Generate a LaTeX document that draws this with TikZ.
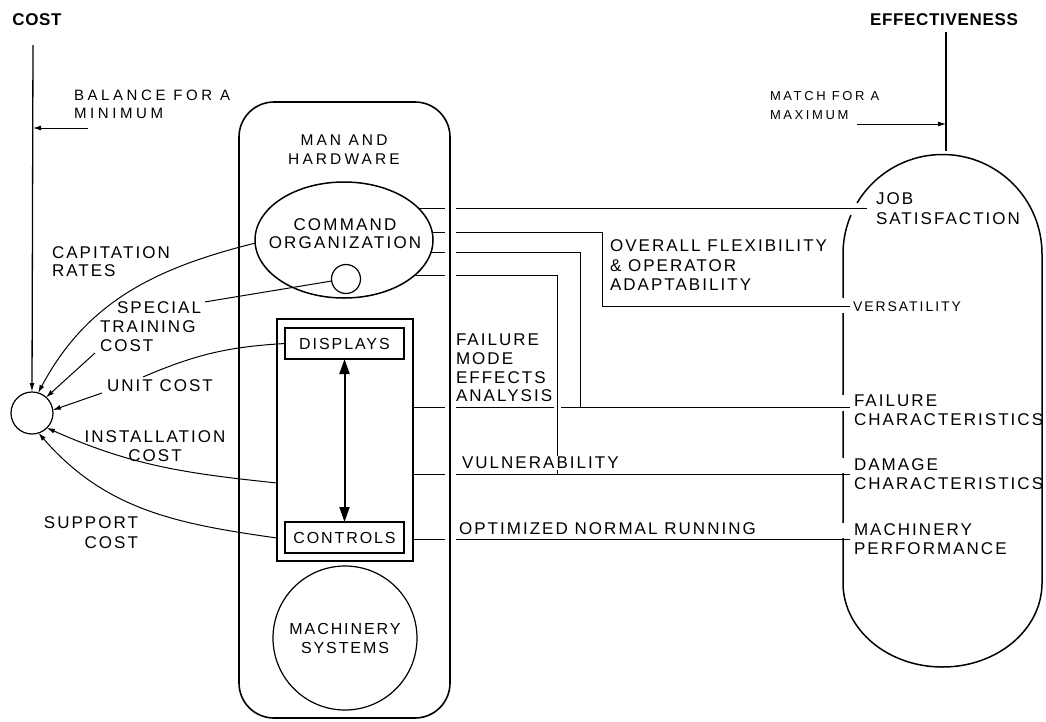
\documentclass[tikz,border=0pt]{standalone}
\usepackage{fontspec}
\setmainfont{Liberation Sans}
\newfontfamily\lblfont{Liberation Sans}[LetterSpace=12]
\newfontfamily\hdfont{Liberation Sans}[LetterSpace=4]
\usetikzlibrary{arrows.meta,shapes.geometric,calc}

\tikzset{
  conn/.style={line width=1pt},
  arr/.style={line width=1pt, -{Latex[length=8pt,width=5pt]}},
  lbl/.style={font={\lblfont\fontsize{17}{18.5}\selectfont}, inner sep=0pt, outer sep=0pt, align=left, anchor=north west},
  one/.style={font={\lblfont\fontsize{17}{18.5}\selectfont}, inner sep=0pt, outer sep=0pt, anchor=west},
  hd/.style={font={\hdfont\bfseries\fontsize{17}{20}\selectfont}, inner sep=0pt},
  unitbox/.style={draw, line width=1.3pt, minimum width=119pt, minimum height=31pt, inner sep=0pt, outer sep=0pt,
    font={\lblfont\fontsize{16}{18}\selectfont}},
  bigframe/.style={draw, line width=1.6pt},
  borderbreak/.style={white, line width=3.5pt},
}

\begin{document}
\begin{tikzpicture}[x=1pt,y=-1pt]
\useasboundingbox (0,0) rectangle (1046,721);

% ---- headings and the two axes
\node[hd] (costlbl) at (37,20) {COST};
\node[hd] (efflbl) at (944,20) {EFFECTIVENESS};
\coordinate (costtop) at (33,45);
\coordinate (efftop) at (946,32);
\coordinate (effbot) at (946,151);

\node[circle, draw, line width=1.2pt, minimum size=42pt, inner sep=0pt, outer sep=0pt] (cc) at (32,413) {};
\draw[line width=1.3pt, -{Latex[length=9pt,width=5pt]}] (costtop) -- (cc.north);
\draw[line width=1.5pt] (efftop) -- (effbot);

\node[lbl, font={\lblfont\addfontfeature{LetterSpace=24}\fontsize{15}{18}\selectfont}] (bal) at (74,89.6) {BALANCE FOR A\\MINIMUM};
\coordinate (balfrom) at (88,128);
\draw[arr] (balfrom) -- (balfrom -| costtop);

\node[lbl, font={\lblfont\addfontfeature{LetterSpace=20}\fontsize{13}{18.5}\selectfont}] (match) at (770,91.8) {MATCH FOR A\\MAXIMUM};
\coordinate (matchfrom) at (857,124);
\draw[arr] (matchfrom) -- (matchfrom -| efftop);

% ---- man and hardware
\node[bigframe, rounded corners=35pt, minimum width=211pt, minimum height=616pt, inner sep=0pt, outer sep=0pt] (mh) at (344.5,410) {};
\node[lbl, anchor=north, align=center, font={\lblfont\addfontfeature{LetterSpace=20}\fontsize{15.5}{19}\selectfont}] (mhtxt) at (344,134.5) {MAN AND\\HARDWARE};

\node[ellipse, draw, line width=1.5pt, minimum width=178pt, minimum height=116pt, inner sep=0pt, outer sep=0pt] (cmd) at (344,240) {};
\node[lbl, anchor=north, align=center, font={\lblfont\addfontfeature{LetterSpace=13}\fontsize{17}{18}\selectfont}] (cmdtxt) at (345,218.9) {COMMAND\\ORGANIZATION};
\node[circle, draw, line width=1.2pt, minimum size=29pt, inner sep=0pt, outer sep=0pt] (sc) at (346,279) {};

\node[draw, line width=2.2pt, minimum width=136pt, minimum height=242pt, inner sep=0pt, outer sep=0pt] (panel) at (345,440) {};
\node[unitbox] (disp) at (344.5,343.5) {DISPLAYS};
\node[unitbox] (ctrl) at (344.5,537.5) {CONTROLS};
\draw[line width=2pt, {Triangle[length=15pt,width=10pt]}-{Triangle[length=15pt,width=10pt]}] (disp.south) -- (ctrl.north);

\node[circle, draw, line width=1.2pt, minimum size=144pt, inner sep=0pt, align=center,
  font={\lblfont\fontsize{16}{19}\selectfont}] (mach) at (345,638) {MACHINERY\\SYSTEMS};

% ---- cost side labels and leaders
\node[lbl] (capit) at (52,246.3) {CAPITATION\\RATES};
\draw[arr] (cmd.182) to[out=194, in=62] (cc.73);

\node[lbl, font={\lblfont\fontsize{17}{19}\selectfont}] (spec) at (100,301.9) {\hspace*{17pt}SPECIAL\\TRAINING\\COST};
\draw[conn] (sc.188) -- ([xshift=4pt]spec.north east);
\coordinate (specfrom) at (95,353);
\draw[arr] (specfrom) -- (cc.48);

\node[one] (unit) at (107,386) {UNIT COST};
\coordinate (unitto) at (143,377);
\coordinate (unitfrom) at (102,393);
\draw[conn] (disp.west) to[bend right=10] (unitto);
\draw[arr] (unitfrom) -- (cc.8);

\node[lbl, anchor=north, align=center] (inst) at (155,430.9) {INSTALLATION\\COST};
\coordinate (insty) at (200,483);
\draw[arr] (panel.west |- insty) to[out=174, in=-24] (cc.-45);

\node[lbl, anchor=north east, align=right, font={\lblfont\fontsize{17}{20}\selectfont}] (supp) at (138,516.9) {SUPPORT\\COST};
\coordinate (suppy) at (200,538);
\draw[arr] (panel.west |- suppy) to[out=172, in=-49] (cc.-72);

% ---- effectiveness side: capsule, broken where the leaders come in
\draw[line width=1.5pt] (843,254) arc[start angle=180, end angle=0, radius=99.5pt]
  -- (1042,583) arc[start angle=0, end angle=-180, x radius=99.5pt, y radius=84pt] -- cycle;
\draw[borderbreak] (851,215) arc[start angle=156.9, end angle=149.2, radius=99.5pt];
\draw[borderbreak] (843,298) -- (843,313);
\draw[borderbreak] (843,395) -- (843,411);
\draw[borderbreak] (843,458) -- (843,473);
\draw[borderbreak] (843,523) -- (843,538);

\node[lbl, font={\lblfont\fontsize{17}{20}\selectfont}] (job) at (876,192.9) {JOB\\SATISFACTION};
\node[one, font={\lblfont\addfontfeature{LetterSpace=14}\fontsize{14}{16}\selectfont}] (vers) at (853,307) {VERSATILITY};
\node[lbl] (failc) at (854,394.9) {FAILURE\\CHARACTERISTICS};
\node[lbl] (damc) at (854,458.9) {DAMAGE\\CHARACTERISTICS};
\node[lbl] (machp) at (854,523.9) {MACHINERY\\PERFORMANCE};

\node[lbl, font={\lblfont\fontsize{17}{19.5}\selectfont}] (flex) at (610,239.9) {OVERALL FLEXIBILITY\\\&\ OPERATOR\\ADAPTABILITY};
\node[lbl, font={\lblfont\fontsize{17}{18.7}\selectfont}] (fmea) at (456,333.9) {FAILURE\\MODE\\EFFECTS\\ANALYSIS};
\node[one] (optr) at (459,529) {OPTIMIZED NORMAL RUNNING};

% gap either side of the man-and-hardware border, and line ends at the capsule
\coordinate (gl) at (445,0);
\coordinate (gr) at (456,0);
\coordinate (jobend) at (867,0);
\coordinate (capin) at (850,0);
\coordinate (v2) at (602,306);
\coordinate (v3) at (580,407);
\coordinate (v4) at (557,474);
\coordinate (opty) at (0,539);
\coordinate (hopl) at (554,0);
\coordinate (hopr) at (561,0);

% job satisfaction
\draw[conn] (cmd.23.3) -- (cmd.23.3 -| gl);
\draw[conn] (cmd.23.3 -| gr) -- (cmd.23.3 -| jobend);
% versatility
\draw[conn] (cmd.5.85) -- (cmd.5.85 -| gl);
\draw[conn] (cmd.5.85 -| gr) -| (v2) -- (v2 -| capin);
% failure characteristics
\draw[conn] (cmd.-8.5) -- (cmd.-8.5 -| gl);
\draw[conn] (cmd.-8.5 -| gr) -| (v3);
\draw[conn] (panel.east |- v3) -- (v3 -| gl);
\draw[conn] (v3 -| gr) -- (v3 -| hopl);
\draw[conn] (v3 -| hopr) -- (v3 -| capin);
% damage characteristics
\draw[conn] (cmd.-27.3) -- (cmd.-27.3 -| gl);
\draw[conn] (cmd.-27.3 -| gr) -| (v4);
\draw[conn] (panel.east |- v4) -- (v4 -| gl);
\draw[conn] (v4 -| gr) -- (v4 -| capin);
% machinery performance
\draw[conn] (panel.east |- opty) -- (opty -| gl);
\draw[conn] (opty -| gr) -- (opty -| capin);

% set over the damage leader, which stops at the lettering
\node[one, fill=white, inner ysep=1.5pt] (vuln) at (462,463) {VULNERABILITY};
\end{tikzpicture}
\end{document}
